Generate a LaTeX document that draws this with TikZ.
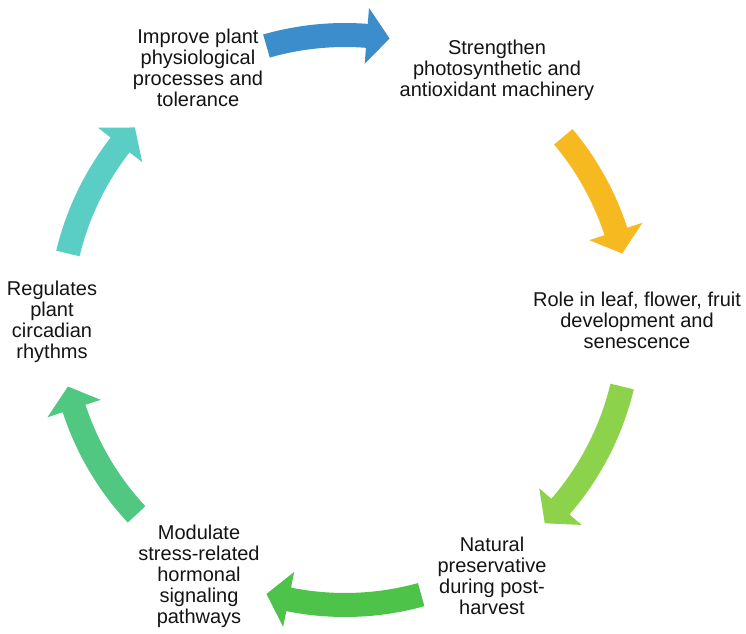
\documentclass[tikz,border=0pt]{standalone}
\usepackage{fontspec}
\setmainfont{Liberation Sans}
\definecolor{cblue}{HTML}{3C8DCB}
\definecolor{corange}{HTML}{F6B920}
\definecolor{clime}{HTML}{8DD24B}
\definecolor{cgreen}{HTML}{4EC34A}
\definecolor{cmint}{HTML}{50C882}
\definecolor{cteal}{HTML}{5ACEC5}
\newcommand\cycarrow[3]{%
  \pgfmathsetmacro\hb{#3+4.6}%
  \fill[#1] ([shift={(C)}]#2:297pt) arc[start angle=#2, end angle=\hb, radius=297pt]
    -- ([shift={(C)}]\hb:313pt) -- ([shift={(C)}]#3:285pt) -- ([shift={(C)}]\hb:257pt)
    -- ([shift={(C)}]\hb:273pt) arc[start angle=\hb, end angle=#2, radius=273pt] -- cycle;}
\begin{document}
\begin{tikzpicture}[x=1pt,y=1pt,
  lbl/.style={align=center, inner sep=0pt, font=\fontsize{20}{21}\selectfont, text=black!92}]
\useasboundingbox[fill=white] (0,0) rectangle (746,633);
\coordinate (C) at (345,313);
\cycarrow{cblue}{106}{81}
\cycarrow{corange}{40}{13.5}
\cycarrow{clime}{-13.5}{-45.5}
\cycarrow{cgreen}{-74.5}{-106}
\cycarrow{cmint}{-137}{-166.5}
\cycarrow{cteal}{166.5}{137.5}
\node[lbl] (n1) at (198,{633-67.7}) {Improve plant\\physiological\\processes and\\tolerance};
\node[lbl] (n2) at (497,{633-70.2}) {Strengthen\\photosynthetic and\\antioxidant machinery};
\node[lbl] (n3) at (637,{633-320.7}) {Role in leaf, flower, fruit\\development and\\senescence};
\node[lbl] (n4) at (52,{633-322}) {Regulates\\plant\\circadian\\rhythms};
\node[lbl] (n5) at (199,{633-576.7}) {Modulate\\stress-related\\hormonal\\signaling\\pathways};
\node[lbl] (n6) at (492,{633-575.7}) {Natural\\preservative\\during post-\\harvest};
\end{tikzpicture}
\end{document}
